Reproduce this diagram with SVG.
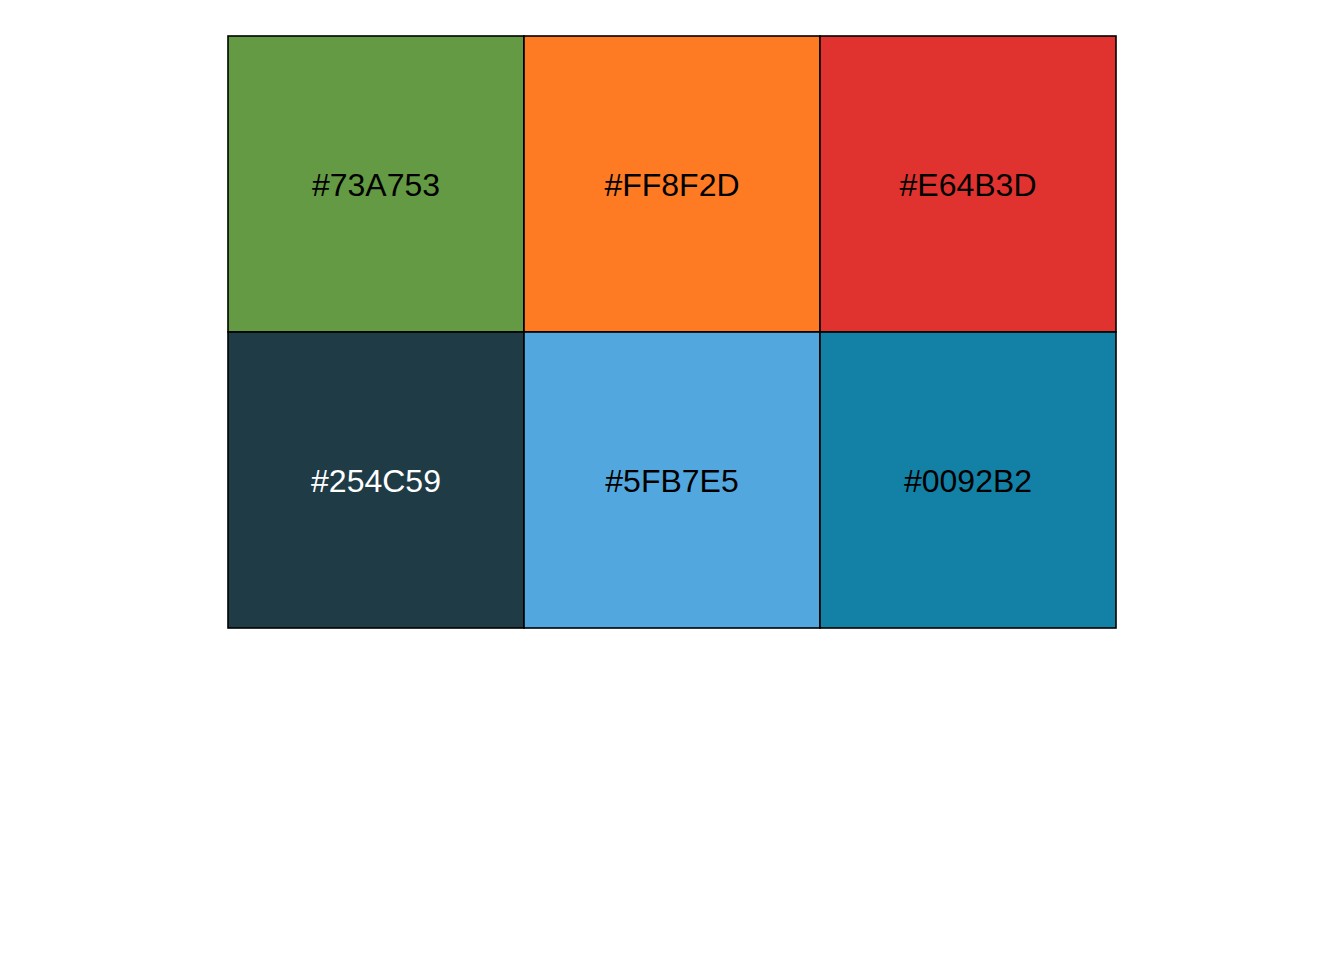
<svg xmlns="http://www.w3.org/2000/svg" width="1344" height="960" viewBox="0 0 1344 960">
<style>
.cell{stroke:#000;stroke-width:1.6}
.lbl{font-family:"Liberation Sans",Arial,sans-serif;font-size:32px;text-anchor:middle}
</style>
<rect width="1344" height="960" fill="#fff"/>
<g id="c1"><rect class="cell" x="228" y="36" width="296" height="296" fill="#639A43"/><text class="lbl" x="376" y="195.5" fill="#000">#73A753</text></g>
<g id="c2"><rect class="cell" x="524" y="36" width="296" height="296" fill="#FE7B24"/><text class="lbl" x="672" y="195.5" fill="#000">#FF8F2D</text></g>
<g id="c3"><rect class="cell" x="820" y="36" width="296" height="296" fill="#E0332F"/><text class="lbl" x="968" y="195.5" fill="#000">#E64B3D</text></g>
<g id="c4"><rect class="cell" x="228" y="332" width="296" height="296" fill="#1E3B46"/><text class="lbl" x="376" y="492" fill="#fff">#254C59</text></g>
<g id="c5"><rect class="cell" x="524" y="332" width="296" height="296" fill="#52A8DE"/><text class="lbl" x="672" y="492" fill="#000">#5FB7E5</text></g>
<g id="c6"><rect class="cell" x="820" y="332" width="296" height="296" fill="#1380A5"/><text class="lbl" x="968" y="492" fill="#000">#0092B2</text></g>
<g id="connectors"/>
</svg>
